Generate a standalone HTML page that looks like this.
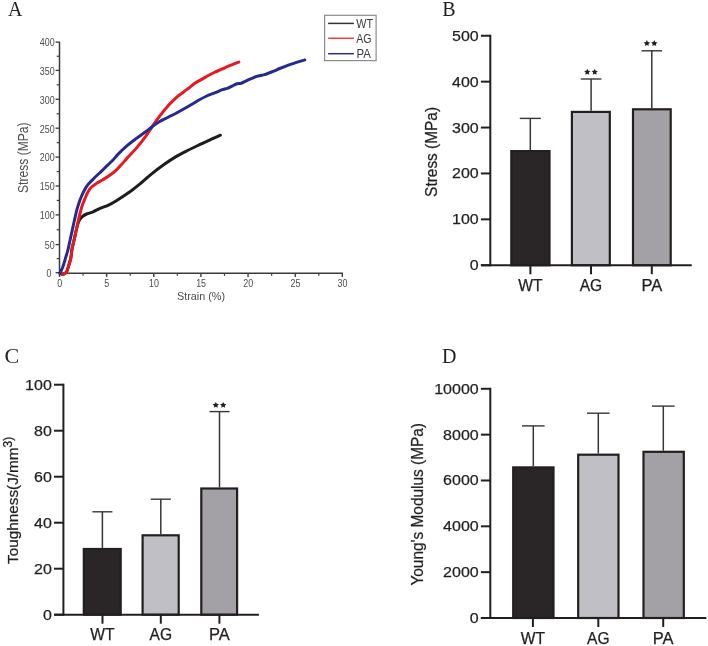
<!DOCTYPE html>
<html><head><meta charset="utf-8"><title>Figure</title>
<style>
html,body{margin:0;padding:0;background:#ffffff;}
body{width:708px;height:646px;overflow:hidden;font-family:"Liberation Sans", sans-serif;}
svg{display:block;will-change:transform;}
</style></head>
<body>
<svg width="708" height="646" viewBox="0 0 708 646">
<rect x="0" y="0" width="708" height="646" fill="#ffffff"/>
<text x="8.00" y="16.30" font-size="20" fill="#231f20" text-anchor="start" font-family='"Liberation Serif", serif' >A</text>
<text x="442.30" y="16.30" font-size="20" fill="#231f20" text-anchor="start" font-family='"Liberation Serif", serif' >B</text>
<text x="4.60" y="363.40" font-size="22" fill="#231f20" text-anchor="start" font-family='"Liberation Serif", serif' >C</text>
<text x="442.00" y="363.00" font-size="20" fill="#231f20" text-anchor="start" font-family='"Liberation Serif", serif' >D</text>
<line x1="59.50" y1="41.70" x2="59.50" y2="273.30" stroke="#3a3a3a" stroke-width="1.5"/>
<line x1="55.60" y1="272.70" x2="59.50" y2="272.70" stroke="#3a3a3a" stroke-width="1.3"/>
<text x="49.05" y="276.90" font-size="10.4" fill="#4d4d4d" text-anchor="middle" font-family='"Liberation Sans", sans-serif' textLength="4.95" lengthAdjust="spacingAndGlyphs" >0</text>
<line x1="56.70" y1="258.65" x2="59.50" y2="258.65" stroke="#3a3a3a" stroke-width="1.2"/>
<line x1="55.60" y1="244.60" x2="59.50" y2="244.60" stroke="#3a3a3a" stroke-width="1.3"/>
<text x="54.60" y="248.90" font-size="10.4" fill="#4d4d4d" text-anchor="end" font-family='"Liberation Sans", sans-serif' textLength="9.9" lengthAdjust="spacingAndGlyphs" >50</text>
<line x1="56.70" y1="229.75" x2="59.50" y2="229.75" stroke="#3a3a3a" stroke-width="1.2"/>
<line x1="55.60" y1="214.90" x2="59.50" y2="214.90" stroke="#3a3a3a" stroke-width="1.3"/>
<text x="54.60" y="219.20" font-size="10.4" fill="#4d4d4d" text-anchor="end" font-family='"Liberation Sans", sans-serif' textLength="14.850000000000001" lengthAdjust="spacingAndGlyphs" >100</text>
<line x1="56.70" y1="200.45" x2="59.50" y2="200.45" stroke="#3a3a3a" stroke-width="1.2"/>
<line x1="55.60" y1="186.00" x2="59.50" y2="186.00" stroke="#3a3a3a" stroke-width="1.3"/>
<text x="54.60" y="190.30" font-size="10.4" fill="#4d4d4d" text-anchor="end" font-family='"Liberation Sans", sans-serif' textLength="14.850000000000001" lengthAdjust="spacingAndGlyphs" >150</text>
<line x1="56.70" y1="171.55" x2="59.50" y2="171.55" stroke="#3a3a3a" stroke-width="1.2"/>
<line x1="55.60" y1="157.10" x2="59.50" y2="157.10" stroke="#3a3a3a" stroke-width="1.3"/>
<text x="54.60" y="161.40" font-size="10.4" fill="#4d4d4d" text-anchor="end" font-family='"Liberation Sans", sans-serif' textLength="14.850000000000001" lengthAdjust="spacingAndGlyphs" >200</text>
<line x1="56.70" y1="142.65" x2="59.50" y2="142.65" stroke="#3a3a3a" stroke-width="1.2"/>
<line x1="55.60" y1="128.20" x2="59.50" y2="128.20" stroke="#3a3a3a" stroke-width="1.3"/>
<text x="54.60" y="132.50" font-size="10.4" fill="#4d4d4d" text-anchor="end" font-family='"Liberation Sans", sans-serif' textLength="14.850000000000001" lengthAdjust="spacingAndGlyphs" >250</text>
<line x1="56.70" y1="113.75" x2="59.50" y2="113.75" stroke="#3a3a3a" stroke-width="1.2"/>
<line x1="55.60" y1="99.30" x2="59.50" y2="99.30" stroke="#3a3a3a" stroke-width="1.3"/>
<text x="54.60" y="103.60" font-size="10.4" fill="#4d4d4d" text-anchor="end" font-family='"Liberation Sans", sans-serif' textLength="14.850000000000001" lengthAdjust="spacingAndGlyphs" >300</text>
<line x1="56.70" y1="84.85" x2="59.50" y2="84.85" stroke="#3a3a3a" stroke-width="1.2"/>
<line x1="55.60" y1="70.40" x2="59.50" y2="70.40" stroke="#3a3a3a" stroke-width="1.3"/>
<text x="54.60" y="74.70" font-size="10.4" fill="#4d4d4d" text-anchor="end" font-family='"Liberation Sans", sans-serif' textLength="14.850000000000001" lengthAdjust="spacingAndGlyphs" >350</text>
<line x1="56.70" y1="56.25" x2="59.50" y2="56.25" stroke="#3a3a3a" stroke-width="1.2"/>
<line x1="55.60" y1="42.10" x2="59.50" y2="42.10" stroke="#3a3a3a" stroke-width="1.3"/>
<text x="54.60" y="46.40" font-size="10.4" fill="#4d4d4d" text-anchor="end" font-family='"Liberation Sans", sans-serif' textLength="14.850000000000001" lengthAdjust="spacingAndGlyphs" >400</text>
<line x1="58.90" y1="273.30" x2="342.94" y2="273.30" stroke="#3a3a3a" stroke-width="1.6"/>
<line x1="59.50" y1="273.30" x2="59.50" y2="276.90" stroke="#3a3a3a" stroke-width="1.4"/>
<text x="59.70" y="286.60" font-size="10.4" fill="#4d4d4d" text-anchor="middle" font-family='"Liberation Sans", sans-serif' textLength="4.95" lengthAdjust="spacingAndGlyphs" >0</text>
<line x1="83.07" y1="273.30" x2="83.07" y2="275.80" stroke="#3a3a3a" stroke-width="1.2"/>
<line x1="106.64" y1="273.30" x2="106.64" y2="276.90" stroke="#3a3a3a" stroke-width="1.4"/>
<text x="106.84" y="286.60" font-size="10.4" fill="#4d4d4d" text-anchor="middle" font-family='"Liberation Sans", sans-serif' textLength="4.95" lengthAdjust="spacingAndGlyphs" >5</text>
<line x1="130.21" y1="273.30" x2="130.21" y2="275.80" stroke="#3a3a3a" stroke-width="1.2"/>
<line x1="153.78" y1="273.30" x2="153.78" y2="276.90" stroke="#3a3a3a" stroke-width="1.4"/>
<text x="153.98" y="286.60" font-size="10.4" fill="#4d4d4d" text-anchor="middle" font-family='"Liberation Sans", sans-serif' textLength="9.9" lengthAdjust="spacingAndGlyphs" >10</text>
<line x1="177.35" y1="273.30" x2="177.35" y2="275.80" stroke="#3a3a3a" stroke-width="1.2"/>
<line x1="200.92" y1="273.30" x2="200.92" y2="276.90" stroke="#3a3a3a" stroke-width="1.4"/>
<text x="201.12" y="286.60" font-size="10.4" fill="#4d4d4d" text-anchor="middle" font-family='"Liberation Sans", sans-serif' textLength="9.9" lengthAdjust="spacingAndGlyphs" >15</text>
<line x1="224.49" y1="273.30" x2="224.49" y2="275.80" stroke="#3a3a3a" stroke-width="1.2"/>
<line x1="248.06" y1="273.30" x2="248.06" y2="276.90" stroke="#3a3a3a" stroke-width="1.4"/>
<text x="248.26" y="286.60" font-size="10.4" fill="#4d4d4d" text-anchor="middle" font-family='"Liberation Sans", sans-serif' textLength="9.9" lengthAdjust="spacingAndGlyphs" >20</text>
<line x1="271.63" y1="273.30" x2="271.63" y2="275.80" stroke="#3a3a3a" stroke-width="1.2"/>
<line x1="295.20" y1="273.30" x2="295.20" y2="276.90" stroke="#3a3a3a" stroke-width="1.4"/>
<text x="295.40" y="286.60" font-size="10.4" fill="#4d4d4d" text-anchor="middle" font-family='"Liberation Sans", sans-serif' textLength="9.9" lengthAdjust="spacingAndGlyphs" >25</text>
<line x1="318.77" y1="273.30" x2="318.77" y2="275.80" stroke="#3a3a3a" stroke-width="1.2"/>
<line x1="342.34" y1="273.30" x2="342.34" y2="276.90" stroke="#3a3a3a" stroke-width="1.4"/>
<text x="342.54" y="286.60" font-size="10.4" fill="#4d4d4d" text-anchor="middle" font-family='"Liberation Sans", sans-serif' textLength="9.9" lengthAdjust="spacingAndGlyphs" >30</text>
<text x="201.00" y="299.70" font-size="10.8" fill="#4d4d4d" text-anchor="middle" font-family='"Liberation Sans", sans-serif' >Strain (%)</text>
<text x="27.70" y="157.70" font-size="14.6" fill="#4d4d4d" text-anchor="middle" font-family='"Liberation Sans", sans-serif' transform="rotate(-90 27.70 157.70)" textLength="70.5" lengthAdjust="spacingAndGlyphs" >Stress (MPa)</text>
<path d="M61.80,274.30 C62.25,274.18 63.70,274.02 64.50,273.60 C65.30,273.18 65.92,273.08 66.60,271.80 C67.28,270.52 67.90,268.18 68.60,265.90 C69.30,263.62 70.22,260.98 70.80,258.10 C71.38,255.22 71.52,251.77 72.10,248.60 C72.68,245.43 73.57,242.37 74.30,239.10 C75.03,235.83 75.77,231.93 76.50,229.00 C77.23,226.07 78.05,223.23 78.70,221.50 C79.35,219.77 79.72,219.48 80.40,218.60 C81.08,217.72 81.77,216.97 82.80,216.20 C83.83,215.43 84.88,214.73 86.60,214.00 C88.32,213.27 90.77,212.78 93.10,211.80 C95.43,210.82 98.12,209.21 100.60,208.13 C103.08,207.05 105.43,206.50 108.00,205.30 C110.57,204.10 112.35,203.16 116.00,200.91 C119.65,198.66 125.72,194.79 129.90,191.80 C134.08,188.81 137.42,186.01 141.10,182.97 C144.78,179.93 148.18,176.63 152.00,173.56 C155.82,170.49 160.00,167.35 164.00,164.52 C168.00,161.69 172.00,158.97 176.00,156.60 C180.00,154.23 184.00,152.30 188.00,150.28 C192.00,148.26 196.00,146.38 200.00,144.47 C204.00,142.55 208.60,140.34 212.00,138.80 C215.40,137.26 219.00,135.80 220.40,135.20" fill="none" stroke="#1d1d1b" stroke-width="3.0" stroke-linecap="round" stroke-linejoin="round"/>
<path d="M61.80,274.30 C62.25,274.18 63.70,274.02 64.50,273.60 C65.30,273.18 65.92,273.08 66.60,271.80 C67.28,270.52 67.90,268.18 68.60,265.90 C69.30,263.62 70.22,260.98 70.80,258.10 C71.38,255.22 71.52,251.77 72.10,248.60 C72.68,245.43 73.57,242.37 74.30,239.10 C75.03,235.83 75.77,232.38 76.50,229.00 C77.23,225.62 77.97,221.97 78.70,218.80 C79.43,215.63 80.25,212.38 80.90,210.00 C81.55,207.62 81.90,206.43 82.60,204.50 C83.30,202.57 84.23,200.45 85.10,198.40 C85.97,196.35 86.77,194.05 87.80,192.20 C88.83,190.35 89.78,188.82 91.30,187.30 C92.82,185.78 95.05,184.32 96.90,183.10 C98.75,181.88 100.43,181.18 102.40,180.00 C104.37,178.82 106.43,177.62 108.70,176.00 C110.97,174.38 113.70,172.39 116.00,170.30 C118.30,168.21 120.65,165.51 122.50,163.48 C124.35,161.45 124.78,160.68 127.10,158.12 C129.42,155.56 133.30,151.73 136.40,148.11 C139.50,144.50 143.07,140.01 145.70,136.43 C148.33,132.85 149.93,129.93 152.20,126.62 C154.47,123.30 156.57,120.09 159.30,116.54 C162.03,112.98 165.50,108.68 168.60,105.29 C171.70,101.89 175.50,98.30 177.90,96.16 C180.30,94.02 181.12,93.84 183.00,92.43 C184.88,91.03 187.10,89.30 189.20,87.70 C191.30,86.11 193.35,84.34 195.60,82.86 C197.85,81.39 200.58,80.07 202.70,78.86 C204.82,77.64 206.30,76.66 208.30,75.56 C210.30,74.46 212.47,73.31 214.70,72.25 C216.93,71.20 219.43,70.25 221.70,69.24 C223.97,68.23 226.33,67.02 228.30,66.18 C230.27,65.35 231.75,64.89 233.50,64.21 C235.25,63.54 237.92,62.46 238.80,62.11" fill="none" stroke="#e8181f" stroke-width="3.0" stroke-linecap="round" stroke-linejoin="round"/>
<path d="M59.80,273.40 C60.32,272.30 61.95,269.35 62.90,266.80 C63.85,264.25 64.67,260.90 65.50,258.10 C66.33,255.30 67.13,253.02 67.90,250.00 C68.67,246.98 69.37,243.33 70.10,240.00 C70.83,236.67 71.57,233.33 72.30,230.00 C73.03,226.67 73.75,223.33 74.50,220.00 C75.25,216.67 76.17,212.50 76.80,210.00 C77.43,207.50 77.77,206.67 78.30,205.00 C78.83,203.33 79.22,202.02 80.00,200.00 C80.78,197.98 81.92,195.13 83.00,192.90 C84.08,190.67 85.35,188.35 86.50,186.60 C87.65,184.85 88.75,183.68 89.90,182.40 C91.05,181.12 92.23,180.05 93.40,178.90 C94.57,177.75 95.50,176.83 96.90,175.50 C98.30,174.17 100.05,172.59 101.80,170.90 C103.55,169.21 105.50,167.23 107.40,165.38 C109.30,163.53 111.45,161.64 113.20,159.81 C114.95,157.98 115.58,156.75 117.90,154.40 C120.22,152.04 124.02,148.36 127.10,145.69 C130.18,143.03 133.30,140.74 136.40,138.41 C139.50,136.08 143.08,133.66 145.70,131.73 C148.32,129.80 149.83,128.47 152.10,126.81 C154.37,125.14 156.55,123.37 159.30,121.74 C162.05,120.10 165.50,118.59 168.60,117.00 C171.70,115.41 174.72,113.92 177.90,112.22 C181.08,110.52 184.40,108.72 187.70,106.82 C191.00,104.92 194.62,102.58 197.70,100.81 C200.78,99.05 203.25,97.60 206.20,96.24 C209.15,94.88 212.82,93.72 215.40,92.66 C217.98,91.60 219.70,90.62 221.70,89.90 C223.70,89.17 225.67,88.93 227.40,88.30 C229.13,87.67 230.50,86.85 232.10,86.10 C233.70,85.35 235.48,84.28 237.00,83.80 C238.52,83.32 239.67,83.70 241.20,83.20 C242.73,82.70 244.43,81.60 246.20,80.80 C247.97,80.00 250.03,79.13 251.80,78.40 C253.57,77.67 255.15,76.93 256.80,76.40 C258.45,75.87 260.17,75.56 261.70,75.20 C263.23,74.84 264.58,74.70 266.00,74.25 C267.42,73.80 268.70,73.12 270.20,72.51 C271.70,71.90 273.42,71.27 275.00,70.60 C276.58,69.93 277.37,69.44 279.70,68.49 C282.03,67.54 286.22,65.93 289.00,64.90 C291.78,63.87 293.77,63.16 296.40,62.33 C299.03,61.49 303.40,60.32 304.80,59.92" fill="none" stroke="#252a8e" stroke-width="3.0" stroke-linecap="round" stroke-linejoin="round"/>
<rect x="324.6" y="15.3" width="51.5" height="45.3" fill="#ffffff" stroke="#8c8c8c" stroke-width="1.2"/>
<line x1="328.10" y1="23.40" x2="353.90" y2="23.40" stroke="#333333" stroke-width="1.5"/>
<line x1="328.10" y1="38.30" x2="353.90" y2="38.30" stroke="#ee3a3a" stroke-width="1.5"/>
<line x1="328.10" y1="53.70" x2="353.90" y2="53.70" stroke="#2b2b8a" stroke-width="1.5"/>
<text x="356.20" y="27.80" font-size="12.2" fill="#3a3a3a" text-anchor="start" font-family='"Liberation Sans", sans-serif' textLength="16.8" lengthAdjust="spacingAndGlyphs" >WT</text>
<text x="356.20" y="43.10" font-size="12.2" fill="#3a3a3a" text-anchor="start" font-family='"Liberation Sans", sans-serif' textLength="15.3" lengthAdjust="spacingAndGlyphs" >AG</text>
<text x="356.50" y="58.10" font-size="12.2" fill="#3a3a3a" text-anchor="start" font-family='"Liberation Sans", sans-serif' textLength="14.4" lengthAdjust="spacingAndGlyphs" >PA</text>
<line x1="530.30" y1="118.40" x2="530.30" y2="150.00" stroke="#383536" stroke-width="1.5"/>
<line x1="519.80" y1="118.40" x2="540.80" y2="118.40" stroke="#383536" stroke-width="1.4"/>
<line x1="591.10" y1="79.00" x2="591.10" y2="110.80" stroke="#383536" stroke-width="1.5"/>
<line x1="580.80" y1="79.00" x2="601.40" y2="79.00" stroke="#383536" stroke-width="1.4"/>
<line x1="651.80" y1="50.80" x2="651.80" y2="108.20" stroke="#383536" stroke-width="1.5"/>
<line x1="641.50" y1="50.80" x2="662.10" y2="50.80" stroke="#383536" stroke-width="1.4"/>
<rect x="511.30" y="151.10" width="38.20" height="114.15" fill="#2a2526" stroke="#231f20" stroke-width="2.2"/>
<rect x="571.90" y="111.90" width="37.90" height="153.35" fill="#c1bfc6" stroke="#231f20" stroke-width="2.2"/>
<rect x="633.00" y="109.30" width="37.70" height="155.95" fill="#a3a1a5" stroke="#231f20" stroke-width="2.2"/>
<line x1="490.30" y1="34.75" x2="490.30" y2="266.25" stroke="#231f20" stroke-width="2.0"/>
<line x1="480.90" y1="265.25" x2="691.70" y2="265.25" stroke="#231f20" stroke-width="2.0"/>
<line x1="480.90" y1="265.25" x2="490.30" y2="265.25" stroke="#231f20" stroke-width="2.0"/>
<text x="478.70" y="270.25" font-size="15.5" fill="#231f20" text-anchor="end" font-family='"Liberation Sans", sans-serif' textLength="8.896" lengthAdjust="spacingAndGlyphs" stroke="#231f20" stroke-width="0.25">0</text>
<line x1="480.90" y1="219.35" x2="490.30" y2="219.35" stroke="#231f20" stroke-width="2.0"/>
<text x="478.70" y="224.35" font-size="15.5" fill="#231f20" text-anchor="end" font-family='"Liberation Sans", sans-serif' textLength="26.688000000000002" lengthAdjust="spacingAndGlyphs" stroke="#231f20" stroke-width="0.25">100</text>
<line x1="480.90" y1="173.45" x2="490.30" y2="173.45" stroke="#231f20" stroke-width="2.0"/>
<text x="478.70" y="178.45" font-size="15.5" fill="#231f20" text-anchor="end" font-family='"Liberation Sans", sans-serif' textLength="26.688000000000002" lengthAdjust="spacingAndGlyphs" stroke="#231f20" stroke-width="0.25">200</text>
<line x1="480.90" y1="127.55" x2="490.30" y2="127.55" stroke="#231f20" stroke-width="2.0"/>
<text x="478.70" y="132.55" font-size="15.5" fill="#231f20" text-anchor="end" font-family='"Liberation Sans", sans-serif' textLength="26.688000000000002" lengthAdjust="spacingAndGlyphs" stroke="#231f20" stroke-width="0.25">300</text>
<line x1="480.90" y1="81.65" x2="490.30" y2="81.65" stroke="#231f20" stroke-width="2.0"/>
<text x="478.70" y="86.65" font-size="15.5" fill="#231f20" text-anchor="end" font-family='"Liberation Sans", sans-serif' textLength="26.688000000000002" lengthAdjust="spacingAndGlyphs" stroke="#231f20" stroke-width="0.25">400</text>
<line x1="480.90" y1="35.75" x2="490.30" y2="35.75" stroke="#231f20" stroke-width="2.0"/>
<text x="478.70" y="40.75" font-size="15.5" fill="#231f20" text-anchor="end" font-family='"Liberation Sans", sans-serif' textLength="26.688000000000002" lengthAdjust="spacingAndGlyphs" stroke="#231f20" stroke-width="0.25">500</text>
<line x1="530.40" y1="265.25" x2="530.40" y2="274.25" stroke="#231f20" stroke-width="2.0"/>
<text x="530.40" y="290.75" font-size="15.8" fill="#231f20" text-anchor="middle" font-family='"Liberation Sans", sans-serif' textLength="24.258" lengthAdjust="spacingAndGlyphs" stroke="#231f20" stroke-width="0.25">WT</text>
<line x1="591.00" y1="265.25" x2="591.00" y2="274.25" stroke="#231f20" stroke-width="2.0"/>
<text x="591.00" y="290.75" font-size="15.8" fill="#231f20" text-anchor="middle" font-family='"Liberation Sans", sans-serif' textLength="22.542" lengthAdjust="spacingAndGlyphs" stroke="#231f20" stroke-width="0.25">AG</text>
<line x1="651.80" y1="265.25" x2="651.80" y2="274.25" stroke="#231f20" stroke-width="2.0"/>
<text x="651.80" y="290.75" font-size="15.8" fill="#231f20" text-anchor="middle" font-family='"Liberation Sans", sans-serif' textLength="20.8104" lengthAdjust="spacingAndGlyphs" stroke="#231f20" stroke-width="0.25">PA</text>
<polygon points="587.30,68.70 588.27,70.67 590.44,70.98 588.87,72.51 589.24,74.67 587.30,73.65 585.36,74.67 585.73,72.51 584.16,70.98 586.33,70.67" fill="#231f20"/>
<polygon points="594.70,68.70 595.67,70.67 597.84,70.98 596.27,72.51 596.64,74.67 594.70,73.65 592.76,74.67 593.13,72.51 591.56,70.98 593.73,70.67" fill="#231f20"/>
<polygon points="646.90,40.10 647.87,42.07 650.04,42.38 648.47,43.91 648.84,46.07 646.90,45.05 644.96,46.07 645.33,43.91 643.76,42.38 645.93,42.07" fill="#231f20"/>
<polygon points="654.30,40.10 655.27,42.07 657.44,42.38 655.87,43.91 656.24,46.07 654.30,45.05 652.36,46.07 652.73,43.91 651.16,42.38 653.33,42.07" fill="#231f20"/>
<text x="436.60" y="151.90" font-size="15.6" fill="#231f20" text-anchor="middle" font-family='"Liberation Sans", sans-serif' transform="rotate(-90 436.60 151.90)" textLength="90.0" lengthAdjust="spacingAndGlyphs" stroke="#231f20" stroke-width="0.25">Stress (MPa)</text>
<line x1="102.40" y1="511.80" x2="102.40" y2="547.90" stroke="#383536" stroke-width="1.5"/>
<line x1="92.40" y1="511.80" x2="112.40" y2="511.80" stroke="#383536" stroke-width="1.4"/>
<line x1="160.80" y1="499.20" x2="160.80" y2="534.20" stroke="#383536" stroke-width="1.5"/>
<line x1="150.80" y1="499.20" x2="170.80" y2="499.20" stroke="#383536" stroke-width="1.4"/>
<line x1="219.50" y1="411.60" x2="219.50" y2="487.40" stroke="#383536" stroke-width="1.5"/>
<line x1="209.50" y1="411.60" x2="229.50" y2="411.60" stroke="#383536" stroke-width="1.4"/>
<rect x="83.80" y="549.00" width="36.90" height="65.70" fill="#2a2526" stroke="#231f20" stroke-width="2.2"/>
<rect x="142.60" y="535.30" width="36.10" height="79.40" fill="#c1bfc6" stroke="#231f20" stroke-width="2.2"/>
<rect x="201.30" y="488.50" width="35.80" height="126.20" fill="#a3a1a5" stroke="#231f20" stroke-width="2.2"/>
<line x1="63.40" y1="383.71" x2="63.40" y2="615.70" stroke="#231f20" stroke-width="2.0"/>
<line x1="54.00" y1="614.70" x2="258.90" y2="614.70" stroke="#231f20" stroke-width="2.0"/>
<line x1="54.00" y1="614.70" x2="63.40" y2="614.70" stroke="#231f20" stroke-width="2.0"/>
<text x="51.80" y="619.70" font-size="15.5" fill="#231f20" text-anchor="end" font-family='"Liberation Sans", sans-serif' textLength="8.896" lengthAdjust="spacingAndGlyphs" stroke="#231f20" stroke-width="0.25">0</text>
<line x1="54.00" y1="568.70" x2="63.40" y2="568.70" stroke="#231f20" stroke-width="2.0"/>
<text x="51.80" y="573.70" font-size="15.5" fill="#231f20" text-anchor="end" font-family='"Liberation Sans", sans-serif' textLength="17.792" lengthAdjust="spacingAndGlyphs" stroke="#231f20" stroke-width="0.25">20</text>
<line x1="54.00" y1="522.70" x2="63.40" y2="522.70" stroke="#231f20" stroke-width="2.0"/>
<text x="51.80" y="527.70" font-size="15.5" fill="#231f20" text-anchor="end" font-family='"Liberation Sans", sans-serif' textLength="17.792" lengthAdjust="spacingAndGlyphs" stroke="#231f20" stroke-width="0.25">40</text>
<line x1="54.00" y1="476.71" x2="63.40" y2="476.71" stroke="#231f20" stroke-width="2.0"/>
<text x="51.80" y="481.71" font-size="15.5" fill="#231f20" text-anchor="end" font-family='"Liberation Sans", sans-serif' textLength="17.792" lengthAdjust="spacingAndGlyphs" stroke="#231f20" stroke-width="0.25">60</text>
<line x1="54.00" y1="430.71" x2="63.40" y2="430.71" stroke="#231f20" stroke-width="2.0"/>
<text x="51.80" y="435.71" font-size="15.5" fill="#231f20" text-anchor="end" font-family='"Liberation Sans", sans-serif' textLength="17.792" lengthAdjust="spacingAndGlyphs" stroke="#231f20" stroke-width="0.25">80</text>
<line x1="54.00" y1="384.71" x2="63.40" y2="384.71" stroke="#231f20" stroke-width="2.0"/>
<text x="51.80" y="389.71" font-size="15.5" fill="#231f20" text-anchor="end" font-family='"Liberation Sans", sans-serif' textLength="26.688000000000002" lengthAdjust="spacingAndGlyphs" stroke="#231f20" stroke-width="0.25">100</text>
<line x1="102.50" y1="614.70" x2="102.50" y2="623.70" stroke="#231f20" stroke-width="2.0"/>
<text x="102.50" y="640.20" font-size="15.8" fill="#231f20" text-anchor="middle" font-family='"Liberation Sans", sans-serif' textLength="24.258" lengthAdjust="spacingAndGlyphs" stroke="#231f20" stroke-width="0.25">WT</text>
<line x1="160.80" y1="614.70" x2="160.80" y2="623.70" stroke="#231f20" stroke-width="2.0"/>
<text x="160.80" y="640.20" font-size="15.8" fill="#231f20" text-anchor="middle" font-family='"Liberation Sans", sans-serif' textLength="22.542" lengthAdjust="spacingAndGlyphs" stroke="#231f20" stroke-width="0.25">AG</text>
<line x1="219.40" y1="614.70" x2="219.40" y2="623.70" stroke="#231f20" stroke-width="2.0"/>
<text x="219.40" y="640.20" font-size="15.8" fill="#231f20" text-anchor="middle" font-family='"Liberation Sans", sans-serif' textLength="20.8104" lengthAdjust="spacingAndGlyphs" stroke="#231f20" stroke-width="0.25">PA</text>
<polygon points="215.80,401.90 216.77,403.87 218.94,404.18 217.37,405.71 217.74,407.87 215.80,406.85 213.86,407.87 214.23,405.71 212.66,404.18 214.83,403.87" fill="#231f20"/>
<polygon points="223.20,401.90 224.17,403.87 226.34,404.18 224.77,405.71 225.14,407.87 223.20,406.85 221.26,407.87 221.63,405.71 220.06,404.18 222.23,403.87" fill="#231f20"/>
<text x="18.30" y="563.90" font-size="15.3" fill="#231f20" text-anchor="start" font-family='"Liberation Sans", sans-serif' transform="rotate(-90 18.30 563.90)" stroke="#231f20" stroke-width="0.25">Toughness(J/mm<tspan dy="-6.4" font-size="12">3)</tspan></text>
<line x1="533.30" y1="425.90" x2="533.30" y2="466.30" stroke="#383536" stroke-width="1.5"/>
<line x1="522.00" y1="425.90" x2="544.60" y2="425.90" stroke="#383536" stroke-width="1.4"/>
<line x1="598.30" y1="413.20" x2="598.30" y2="453.60" stroke="#383536" stroke-width="1.5"/>
<line x1="587.00" y1="413.20" x2="609.60" y2="413.20" stroke="#383536" stroke-width="1.4"/>
<line x1="663.30" y1="406.10" x2="663.30" y2="450.70" stroke="#383536" stroke-width="1.5"/>
<line x1="652.00" y1="406.10" x2="674.60" y2="406.10" stroke="#383536" stroke-width="1.4"/>
<rect x="513.20" y="467.40" width="40.30" height="150.60" fill="#2a2526" stroke="#231f20" stroke-width="2.2"/>
<rect x="578.20" y="454.70" width="40.30" height="163.30" fill="#c1bfc6" stroke="#231f20" stroke-width="2.2"/>
<rect x="643.50" y="451.80" width="40.30" height="166.20" fill="#a3a1a5" stroke="#231f20" stroke-width="2.2"/>
<line x1="490.30" y1="387.80" x2="490.30" y2="619.00" stroke="#231f20" stroke-width="2.0"/>
<line x1="480.90" y1="618.00" x2="706.30" y2="618.00" stroke="#231f20" stroke-width="2.0"/>
<line x1="480.90" y1="618.00" x2="490.30" y2="618.00" stroke="#231f20" stroke-width="2.0"/>
<text x="478.70" y="623.00" font-size="15.5" fill="#231f20" text-anchor="end" font-family='"Liberation Sans", sans-serif' textLength="8.896" lengthAdjust="spacingAndGlyphs" stroke="#231f20" stroke-width="0.25">0</text>
<line x1="480.90" y1="572.16" x2="490.30" y2="572.16" stroke="#231f20" stroke-width="2.0"/>
<text x="478.70" y="577.16" font-size="15.5" fill="#231f20" text-anchor="end" font-family='"Liberation Sans", sans-serif' textLength="35.584" lengthAdjust="spacingAndGlyphs" stroke="#231f20" stroke-width="0.25">2000</text>
<line x1="480.90" y1="526.32" x2="490.30" y2="526.32" stroke="#231f20" stroke-width="2.0"/>
<text x="478.70" y="531.32" font-size="15.5" fill="#231f20" text-anchor="end" font-family='"Liberation Sans", sans-serif' textLength="35.584" lengthAdjust="spacingAndGlyphs" stroke="#231f20" stroke-width="0.25">4000</text>
<line x1="480.90" y1="480.48" x2="490.30" y2="480.48" stroke="#231f20" stroke-width="2.0"/>
<text x="478.70" y="485.48" font-size="15.5" fill="#231f20" text-anchor="end" font-family='"Liberation Sans", sans-serif' textLength="35.584" lengthAdjust="spacingAndGlyphs" stroke="#231f20" stroke-width="0.25">6000</text>
<line x1="480.90" y1="434.64" x2="490.30" y2="434.64" stroke="#231f20" stroke-width="2.0"/>
<text x="478.70" y="439.64" font-size="15.5" fill="#231f20" text-anchor="end" font-family='"Liberation Sans", sans-serif' textLength="35.584" lengthAdjust="spacingAndGlyphs" stroke="#231f20" stroke-width="0.25">8000</text>
<line x1="480.90" y1="388.80" x2="490.30" y2="388.80" stroke="#231f20" stroke-width="2.0"/>
<text x="478.70" y="393.80" font-size="15.5" fill="#231f20" text-anchor="end" font-family='"Liberation Sans", sans-serif' textLength="44.480000000000004" lengthAdjust="spacingAndGlyphs" stroke="#231f20" stroke-width="0.25">10000</text>
<line x1="532.90" y1="618.00" x2="532.90" y2="627.00" stroke="#231f20" stroke-width="2.0"/>
<text x="532.90" y="643.50" font-size="15.8" fill="#231f20" text-anchor="middle" font-family='"Liberation Sans", sans-serif' textLength="24.258" lengthAdjust="spacingAndGlyphs" stroke="#231f20" stroke-width="0.25">WT</text>
<line x1="598.30" y1="618.00" x2="598.30" y2="627.00" stroke="#231f20" stroke-width="2.0"/>
<text x="598.30" y="643.50" font-size="15.8" fill="#231f20" text-anchor="middle" font-family='"Liberation Sans", sans-serif' textLength="22.542" lengthAdjust="spacingAndGlyphs" stroke="#231f20" stroke-width="0.25">AG</text>
<line x1="663.20" y1="618.00" x2="663.20" y2="627.00" stroke="#231f20" stroke-width="2.0"/>
<text x="663.20" y="643.50" font-size="15.8" fill="#231f20" text-anchor="middle" font-family='"Liberation Sans", sans-serif' textLength="20.8104" lengthAdjust="spacingAndGlyphs" stroke="#231f20" stroke-width="0.25">PA</text>
<text x="423.40" y="504.30" font-size="15.6" fill="#231f20" text-anchor="middle" font-family='"Liberation Sans", sans-serif' transform="rotate(-90 423.40 504.30)" textLength="162.5" lengthAdjust="spacingAndGlyphs" stroke="#231f20" stroke-width="0.25">Young's Modulus (MPa)</text>
</svg>
</body></html>
